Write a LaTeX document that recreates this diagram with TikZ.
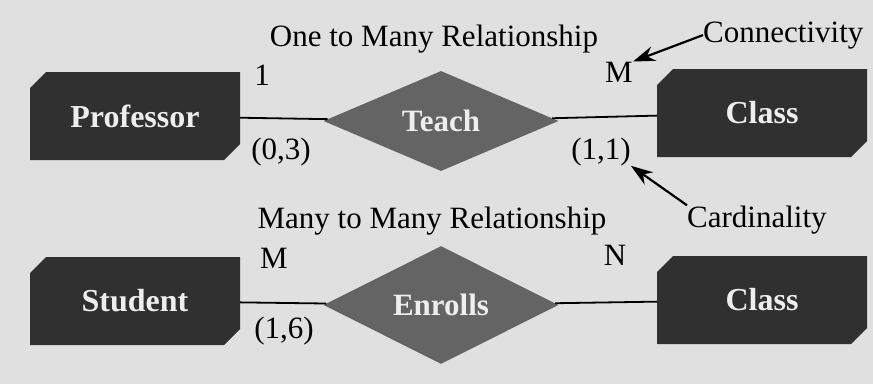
\documentclass[tikz,border=0pt]{standalone}
\usepackage{fontspec}
\setmainfont{Liberation Serif}
\usetikzlibrary{shapes.geometric, shapes.misc, arrows, arrows.meta, positioning}
\definecolor{erback}{RGB}{224, 224, 224}
\definecolor{erentity}{RGB}{48, 48, 48}
\definecolor{errel}{RGB}{100, 100, 100}
\definecolor{erlabel}{RGB}{238, 238, 238}

\begin{document}
\begin{tikzpicture}[x=1pt, y=-1pt,
    entity/.style={chamfered rectangle, chamfered rectangle corners={north west, south east},
      chamfered rectangle xsep=8pt, chamfered rectangle ysep=8pt, fill=erentity, text=erlabel,
      minimum width=210pt, minimum height=88pt, inner sep=0pt,
      font=\fontsize{32}{38}\selectfont\bfseries},
    relation/.style={diamond, fill=errel, text=erlabel, minimum width=235pt, minimum height=100pt,
      inner sep=0pt, font=\fontsize{31}{37}\selectfont\bfseries},
    lbl/.style={inner sep=0pt, anchor=base, font=\fontsize{31}{37}\selectfont},
    link/.style={line width=1.8pt},
    pointer/.style={line width=2.2pt, -{Stealth[length=22pt, width=15pt]}}]
    \fill[erback] (0,0) rectangle (873,384);
    % one to many
    \node[entity] (prof) at (135,116) {Professor};
    \node[relation] (teach) at (441,121) {Teach};
    \node[entity] (classa) at (762,113) {Class};
    \draw[link] (prof) -- (teach);
    \draw[link] (teach) -- (classa);
    \node[lbl] (onemany) at (434,46) {One to Many Relationship};
    \node[lbl] (onea) at (262,85) {1};
    \node[lbl] (mtop) at (619,82) {M};
    \node[lbl] (cardprof) at (281,159) {(0,3)};
    \node[lbl] (cardclass) at (601,159) {(1,1)};
    \node[lbl, anchor=base west] (conn) at (703,42) {Connectivity};
    \node[lbl, anchor=base west] (card) at (687,227) {Cardinality};
    \draw[pointer] (conn.west) -- (mtop.north east);
    \draw[pointer] (card.north west) -- (cardclass.south east);
    % many to many
    \node[entity] (student) at (135,301) {Student};
    \node[relation] (enrolls) at (441,305) {Enrolls};
    \node[entity] (classb) at (762,300) {Class};
    \draw[link] (student) -- (enrolls);
    \draw[link] (enrolls) -- (classb);
    \node[lbl] (manymany) at (432,228) {Many to Many Relationship};
    \node[lbl] (mlow) at (274,268) {M};
    \node[lbl] (nlow) at (615,265) {N};
    \node[lbl] (cardstud) at (284,338) {(1,6)};
\end{tikzpicture}
\end{document}
